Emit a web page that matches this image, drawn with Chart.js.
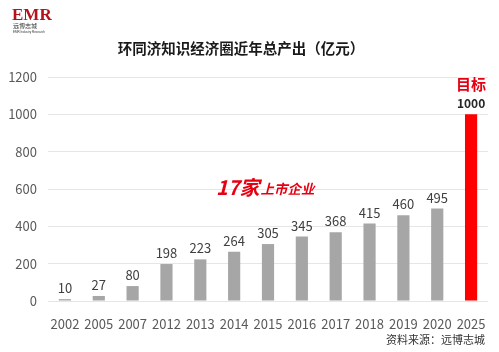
<!DOCTYPE html>
<html><head><meta charset="utf-8">
<script src="https://cdn.jsdelivr.net/npm/chart.js@4.4.1/dist/chart.umd.min.js"></script>
<style>html,body{margin:0;padding:0;background:#fff}#wrap{width:499px;height:352px;position:relative}</style>
</head><body><div id="wrap"><canvas id="c" width="499" height="352"></canvas></div>
<script>
const categories = ['2002','2005','2007','2012','2013','2014','2015','2016','2017','2018','2019','2020','2025'];
const values = [10,27,80,198,223,264,305,345,368,415,460,495,1000];
const yTicks = [0,200,400,600,800,1000,1200];
const titleText = '环同济知识经济圈近年总产出（亿元）';
const targetText = '目标';
const sourceText = '资料来源：远博志城';
const noteBig = '17家';
const noteSmall = '上市企业';

const barColors = categories.map((c,i)=> i===categories.length-1 ? '#ff0000' : '#a6a6a6');
const FONT = '"Noto Sans CJK SC","Noto Sans",sans-serif';

const overlay = {
  id:'overlay',
  afterDatasetsDraw(chart){
    const ctx = chart.ctx;
    const meta = chart.getDatasetMeta(0);
    ctx.save();
    ctx.textAlign='center';
    ctx.textBaseline='alphabetic';
    meta.data.forEach((bar,i)=>{
      const last = i===values.length-1;
      ctx.fillStyle = last ? '#262626' : '#404040';
      ctx.font = (last ? 'bold 12px ' : '13px ') + FONT;
      ctx.fillText(String(values[i]), bar.x, bar.y - 6);
      if(last){
        ctx.fillStyle='#e60012';
        ctx.font='bold 15px '+FONT;
        ctx.fillText(targetText, bar.x, bar.y - 24);
      }
    });
    ctx.restore();
  },
  afterDraw(chart){
    const ctx = chart.ctx;
    ctx.save();
    ctx.fillStyle='#1a1a1a';
    ctx.font='bold 14.5px '+FONT;
    ctx.textAlign='center';
    ctx.textBaseline='middle';
    ctx.fillText(titleText, 241, 48);
    ctx.textAlign='left';
    ctx.textBaseline='alphabetic';
    ctx.font='bold 17px "Liberation Serif",serif';
    ctx.fillStyle='#b5121b';
    ctx.fillText('EMR', 12, 20);
    ctx.font='6px '+FONT;
    ctx.fillStyle='#333';
    ctx.fillText('远博志城', 13, 28);
    ctx.font='3px sans-serif';
    ctx.fillText('EMR Industry Research', 13, 33);
    ctx.fillStyle='#e60012';
    ctx.font='italic bold 20px '+FONT;
    ctx.fillText(noteBig, 216, 195);
    const w = ctx.measureText(noteBig).width;
    ctx.font='italic bold 13.5px '+FONT;
    ctx.fillText(noteSmall, 216+w+1, 194);
    ctx.fillStyle='#333';
    ctx.font='11px '+FONT;
    ctx.textAlign='right';
    ctx.fillText(sourceText, 485, 344);
    ctx.restore();
  }
};

new Chart(document.getElementById('c'),{
  type:'bar',
  data:{labels:categories,datasets:[{data:values,backgroundColor:barColors,barPercentage:0.36,categoryPercentage:1}]},
  options:{
    responsive:false,animation:false,
    layout:{padding:{top:77,right:11,left:0,bottom:0}},
    plugins:{legend:{display:false},tooltip:{enabled:false}},
    scales:{
      x:{grid:{display:false},border:{display:false},
        ticks:{color:'#595959',font:{size:13,family:FONT},padding:7,maxRotation:0,autoSkip:false},
        afterFit(s){s.height=51;}},
      y:{min:0,max:1200,afterBuildTicks(s){s.ticks=yTicks.map(v=>({value:v}));},
        grid:{color:'#e6e6e6',drawTicks:false},border:{display:false},
        ticks:{color:'#595959',font:{size:13,family:FONT},padding:11,callback:v=>String(v)},
        afterFit(s){s.width=48;}}
    }
  },
  plugins:[overlay]
});
</script></body></html>
